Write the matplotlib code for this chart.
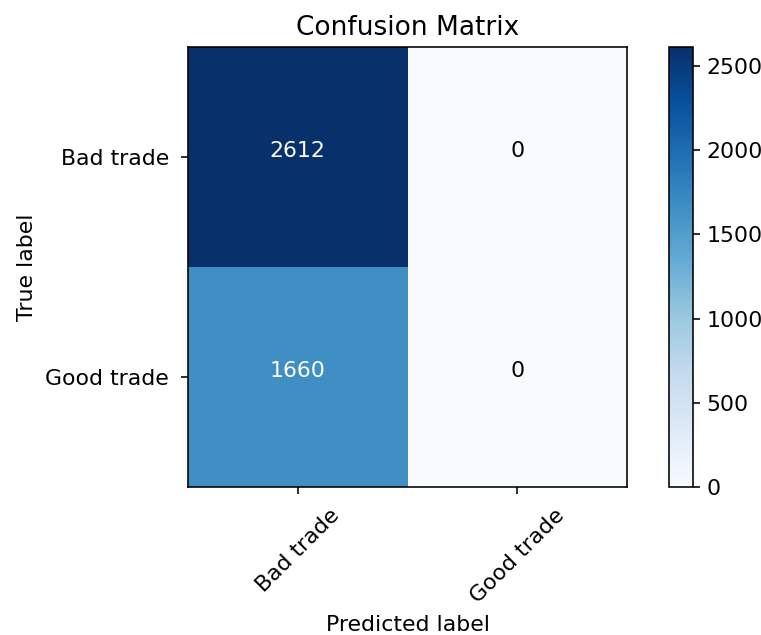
import matplotlib
matplotlib.use('Agg')
import matplotlib.pyplot as plt
import numpy as np

classes = ['Bad trade', 'Good trade']
cm = np.array([[2612, 0],
               [1660, 0]])

plt.rcParams['font.size'] = 11

fig = plt.figure(figsize=(761 / 144, 635 / 144), dpi=144)
ax = fig.add_axes([0.247, 0.233, 0.577, 0.693])
cax = fig.add_axes([0.879, 0.233, 0.031, 0.693])

im = ax.imshow(cm, interpolation='nearest', cmap=plt.cm.Blues)
ax.set_title('Confusion Matrix')
fig.colorbar(im, cax=cax)

ticks = np.arange(len(classes))
ax.set_xticks(ticks)
ax.set_xticklabels(classes, rotation=45)
ax.set_yticks(ticks)
ax.set_yticklabels(classes)
ax.tick_params(axis='both', pad=6)

# white text on dark cells
thresh = cm.max() / 2.
for i in range(cm.shape[0]):
    for j in range(cm.shape[1]):
        ax.text(j, i, format(cm[i, j], 'd'),
                horizontalalignment='center',
                color='white' if cm[i, j] > thresh else 'black')

ax.set_ylabel('True label')
ax.set_xlabel('Predicted label')

fig.savefig('out.png', dpi=144)
